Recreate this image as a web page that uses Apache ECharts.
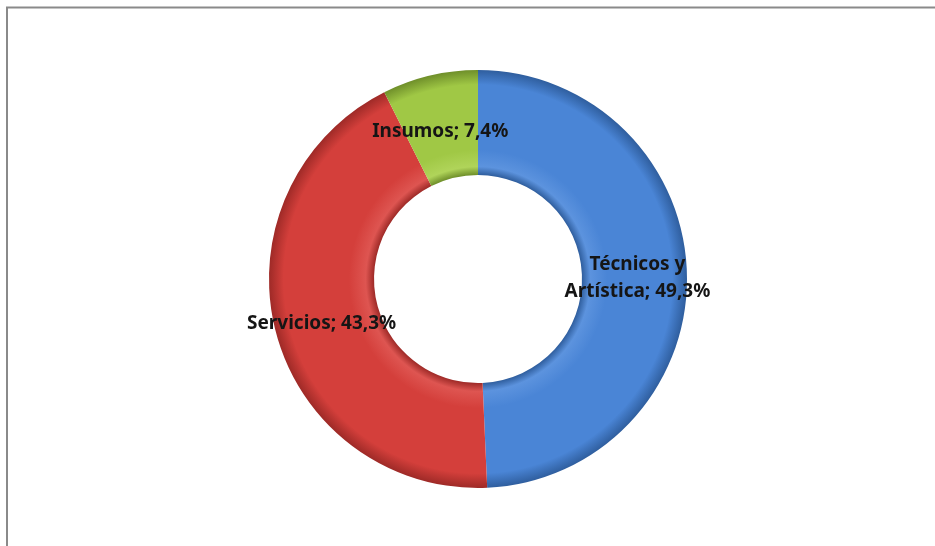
<!DOCTYPE html>
<html>
<head>
<meta charset="utf-8">
<script src="https://cdn.jsdelivr.net/npm/echarts@6/dist/echarts.min.js"></script>
<style>
  html, body { margin: 0; padding: 0; background: #fff; }
  #chart { width: 935px; height: 546px; }
</style>
</head>
<body>
<div id="chart"></div>
<script>
// Budget share by category (percent)
const categories = ['Técnicos y\nArtística', 'Servicios', 'Insumos'];
const values = [49.3, 43.3, 7.4];
const baseColors = ['#4A85D6', '#D43F3B', '#A0C845'];
const edgeColors = ['#2F5E9E', '#9E2A27', '#6F8F2A'];
const lightColors = ['#5C93DE', '#DE5551', '#B0D45A'];
// small nudges of each label from its slice centre
const labelNudge = [[0, 3], [-2, 4], [-1, 8]];

const cx = 478, cy = 279, rOuter = 209, rInner = 104;

function ringShade(i) {
  const a = rInner / rOuter;
  return {
    type: 'radial', x: cx, y: cy, r: rOuter, global: true,
    colorStops: [
      { offset: 0, color: edgeColors[i] },
      { offset: a, color: edgeColors[i] },
      { offset: a + 0.04, color: lightColors[i] },
      { offset: a + 0.12, color: baseColors[i] },
      { offset: 0.93, color: baseColors[i] },
      { offset: 1, color: edgeColors[i] }
    ]
  };
}

const chart = echarts.init(document.getElementById('chart'), null, { renderer: 'canvas' });
chart.setOption({
  backgroundColor: '#ffffff',
  animation: false,
  graphic: [
    { type: 'line', shape: { x1: 6, y1: 7.5, x2: 935, y2: 7.5 }, style: { stroke: '#8a8a8a', lineWidth: 2 } },
    { type: 'line', shape: { x1: 7, y1: 7, x2: 7, y2: 546 }, style: { stroke: '#8a8a8a', lineWidth: 2 } }
  ],
  series: [{
    type: 'pie',
    center: [cx, cy],
    radius: [rInner, rOuter],
    startAngle: 90,
    clockwise: true,
    avoidLabelOverlap: false,
    itemStyle: { borderWidth: 0 },
    label: {
      show: true,
      position: 'inside',
      color: '#151515',
      fontFamily: 'Noto Sans',
      fontWeight: 'bold',
      fontSize: 19,
      lineHeight: 27,
      align: 'center',
      formatter: p => p.name + '; ' + p.value.toFixed(1).replace('.', ',') + '%'
    },
    labelLine: { show: false },
    data: categories.map((name, i) => ({
      name: name,
      value: values[i],
      itemStyle: { color: ringShade(i) },
      label: { offset: labelNudge[i] }
    }))
  }]
});
</script>
</body>
</html>
